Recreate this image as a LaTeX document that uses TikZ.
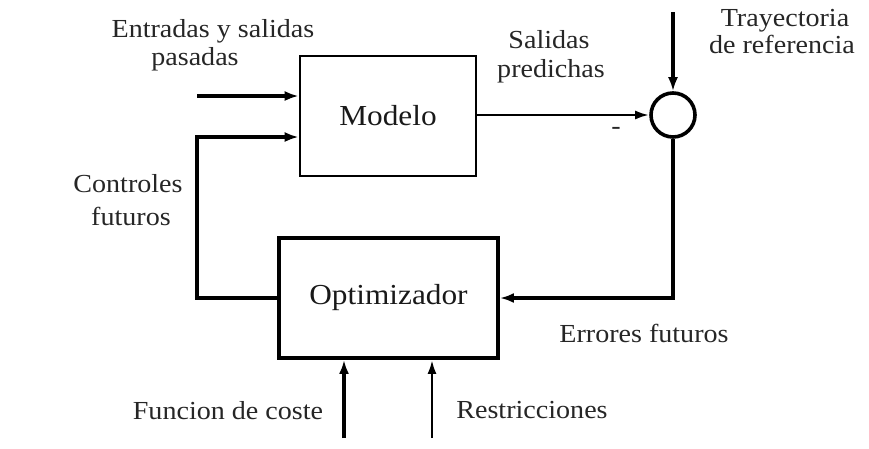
\documentclass[tikz,border=0pt]{standalone}
\usepackage{fontspec}
\setmainfont[FakeStretch=1.08]{Liberation Serif}
\usetikzlibrary{arrows.meta}
\begin{document}
\begin{tikzpicture}[x=1pt,y=-1pt,
  lbl/.style={font=\fontsize{26}{30}\selectfont, text=black!85, anchor=base, inner sep=0pt},
  blk/.style={draw, inner sep=0pt, font=\fontsize{29}{34}\selectfont, text=black!90},
  arr/.style={line width=3.6pt, -{Latex[length=14pt,width=10pt]}},
  thin arr/.style={line width=2.6pt, -{Latex[length=14pt,width=9pt]}}]
\useasboundingbox (0,0) rectangle (869,448);
% blocks
\node[blk, line width=2.6pt, minimum width=176pt, minimum height=120pt] (mod) at (388,116) {Modelo};
\node[blk, line width=3.8pt, minimum width=219pt, minimum height=120pt] (opt) at (388.5,298) {Optimizador};
\node[draw, circle, line width=3.6pt, minimum size=44pt, inner sep=0pt] (sum) at (673,115) {};
% coordinates of free ends
\coordinate (in1) at (197,96);
\coordinate (c1) at (197,137);
\coordinate (ref) at (673,12);
\coordinate (f1) at (344,438);
\coordinate (f2) at (432,438);
% connectors
\draw[arr] (in1) -- (in1 -| mod.west);
\draw[arr] (opt.west) -| (c1) -- (c1 -| mod.west);
\draw[thin arr] (mod.east |- sum.west) -- (sum.west);
\draw[arr] (ref) -- (sum.north);
\draw[arr] (sum.south) |- (opt.east);
\draw[arr] (f1) -- (f1 |- opt.south);
\draw[thin arr] (f2) -- (f2 |- opt.south);
% labels
\node[lbl] (t1) at (213,37) {Entradas y salidas};
\node[lbl] (t2) at (195,65) {pasadas};
\node[lbl] (t3) at (549,48) {Salidas};
\node[lbl] (t4) at (551,77) {predichas};
\node[lbl] (t5) at (785,26) {Trayectoria};
\node[lbl] (t6) at (782,53) {de referencia};
\node[lbl] (t7) at (128,192) {Controles};
\node[lbl] (t8) at (131,225) {futuros};
\node[lbl] (t9) at (644,342) {Errores futuros};
\node[lbl] (t10) at (228,419) {Funcion de coste};
\node[lbl] (t11) at (532,418) {Restricciones};
\node[lbl] (minus) at (616,134) {-};
\end{tikzpicture}
\end{document}
